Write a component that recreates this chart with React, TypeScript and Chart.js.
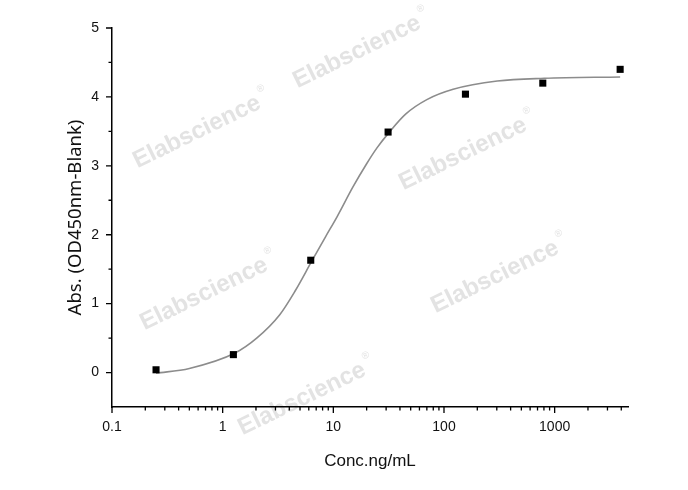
import { useEffect, useRef } from 'react';
import { Chart, registerables } from 'chart.js';

Chart.register(...registerables);

// Measured standards (fold-5 dilution series)
const concentrations = [0.25, 1.25, 6.25, 31.25, 156.25, 781.25, 3906.25];
const absorbance = [0.04, 0.26, 1.63, 3.49, 4.04, 4.2, 4.4];

// Fitted curve
const fitConc = [0.25, 0.5, 1.28, 2.03, 3.28, 4.5, 6.4, 8.5, 10.8, 15.0, 20, 24.8, 32.5, 45, 70, 121, 303, 807, 3906.25];
const fitAbs = [-0.01, 0.06, 0.28, 0.5, 0.84, 1.18, 1.62, 1.97, 2.26, 2.69, 3.03, 3.26, 3.5, 3.75, 3.96, 4.11, 4.23, 4.27, 4.29];

const xTickLabels = ['0.1', '1', '10', '100', '1000'];
const yTickLabels = ['0', '1', '2', '3', '4', '5'];

const xTitle = 'Conc.ng/mL';
const yTitle = 'Abs. (OD450nm-Blank)';
const watermarkText = 'Elabscience';

const watermarkPlugin = {
  id: 'watermark',
  beforeDraw(chart: any) {
    const ctx = chart.ctx as CanvasRenderingContext2D;
    const spots: [number, number][] = [
      [357, 52],
      [197, 132],
      [463, 154],
      [204, 294],
      [495, 277],
      [302, 399],
    ];
    ctx.save();
    ctx.fillStyle = '#e3e3e3';
    for (const [cx, cy] of spots) {
      ctx.save();
      ctx.translate(cx, cy);
      ctx.rotate((-26 * Math.PI) / 180);
      ctx.font = 'bold 24px "Liberation Sans", Arial, sans-serif';
      ctx.textAlign = 'center';
      ctx.textBaseline = 'middle';
      ctx.fillText(watermarkText, 0, 0);
      const w = ctx.measureText(watermarkText).width;
      ctx.font = '10px "Liberation Sans", Arial, sans-serif';
      ctx.textAlign = 'left';
      ctx.fillText('®', w / 2 + 3, -11);
      ctx.restore();
    }
    ctx.restore();
  },
};

const tickMarksPlugin = {
  id: 'tickMarks',
  afterDraw(chart: any) {
    const ctx = chart.ctx as CanvasRenderingContext2D;
    const { chartArea } = chart;
    const xs = chart.scales.x;
    const ys = chart.scales.y;
    ctx.save();
    ctx.strokeStyle = '#000';
    ctx.lineWidth = 1.3;
    ctx.beginPath();
    for (const t of xs.ticks) {
      const v = t.value;
      const e = Math.floor(Math.log10(v) + 1e-9);
      const m = v / Math.pow(10, e);
      if (Math.abs(m - Math.round(m)) > 1e-6) continue;
      const px = xs.getPixelForValue(v);
      const len = Math.round(m) === 1 ? 6 : 3.5;
      ctx.moveTo(px, chartArea.bottom);
      ctx.lineTo(px, chartArea.bottom + len);
    }
    for (const t of ys.ticks) {
      const v = t.value;
      if (v < 0) continue;
      const py = ys.getPixelForValue(v);
      const len = Math.abs(v - Math.round(v)) < 1e-6 ? 6 : 3.5;
      ctx.moveTo(chartArea.left - len, py);
      ctx.lineTo(chartArea.left, py);
    }
    ctx.stroke();
    ctx.restore();
  },
};

export default function App() {
  const canvasRef = useRef<HTMLCanvasElement | null>(null);

  useEffect(() => {
    if (!canvasRef.current) return;
    const chart = new Chart(canvasRef.current, {
      type: 'scatter',
      data: {
        datasets: [
          {
            type: 'line',
            label: 'fit',
            data: fitConc.map((x, i) => ({ x, y: fitAbs[i] })),
            borderColor: '#8c8c8c',
            borderWidth: 1.6,
            pointRadius: 0,
            fill: false,
            cubicInterpolationMode: 'monotone',
            order: 2,
          } as any,
          {
            type: 'scatter',
            label: 'standards',
            data: concentrations.map((x, i) => ({ x, y: absorbance[i] })),
            pointStyle: 'rect',
            pointRadius: 5,
            backgroundColor: '#000',
            borderColor: '#000',
            borderWidth: 0,
            order: 1,
          } as any,
        ],
      },
      options: {
        animation: false,
        responsive: false,
        devicePixelRatio: 1,
        layout: { padding: { top: 28, right: 60, bottom: 0, left: 0 } },
        plugins: {
          legend: { display: false },
          tooltip: { enabled: false },
        },
        scales: {
          x: {
            type: 'logarithmic',
            min: 0.1,
            max: 4600,
            grid: { display: false, drawTicks: false },
            border: { display: true, color: '#000', width: 1.5 },
            ticks: {
              autoSkip: false,
              maxRotation: 0,
              padding: 12,
              color: '#111',
              font: { family: '"Liberation Sans", Arial, sans-serif', size: 14 },
              callback: (value: any) => {
                const v = Number(value);
                const lg = Math.log10(v);
                const r = Math.round(lg);
                if (Math.abs(lg - r) < 1e-6) return xTickLabels[r + 1] ?? '';
                return '';
              },
            },
            title: {
              display: true,
              text: xTitle,
              color: '#111',
              font: { family: '"Liberation Sans", Arial, sans-serif', size: 17 },
              padding: { top: 0, bottom: 18 },
            },
            afterFit: (scale: any) => {
              scale.height = 83;
            },
          },
          y: {
            type: 'linear',
            min: -0.5,
            max: 5,
            grid: { display: false, drawTicks: false },
            border: { display: true, color: '#000', width: 1.5 },
            ticks: {
              stepSize: 0.5,
              autoSkip: false,
              padding: 13,
              color: '#111',
              font: { family: '"Liberation Sans", Arial, sans-serif', size: 14 },
              callback: (value: any) => {
                const v = Number(value);
                if (v >= 0 && Math.abs(v - Math.round(v)) < 1e-6) return yTickLabels[Math.round(v)] ?? '';
                return '';
              },
            },
            title: {
              display: true,
              text: yTitle,
              color: '#111',
              font: { family: '"Noto Sans", "Open Sans", sans-serif', size: 18.5 },
              padding: { top: 65, bottom: 0 },
            },
            afterFit: (scale: any) => {
              scale.width = 112;
            },
          },
        },
      },
      plugins: [watermarkPlugin, tickMarksPlugin],
    });
    return () => chart.destroy();
  }, []);

  return (
    <div style={{ position: 'fixed', left: 0, top: 0, width: 688, height: 490, background: '#fff' }}>
      <canvas ref={canvasRef} width={688} height={490} style={{ display: 'block' }} />
    </div>
  );
}
